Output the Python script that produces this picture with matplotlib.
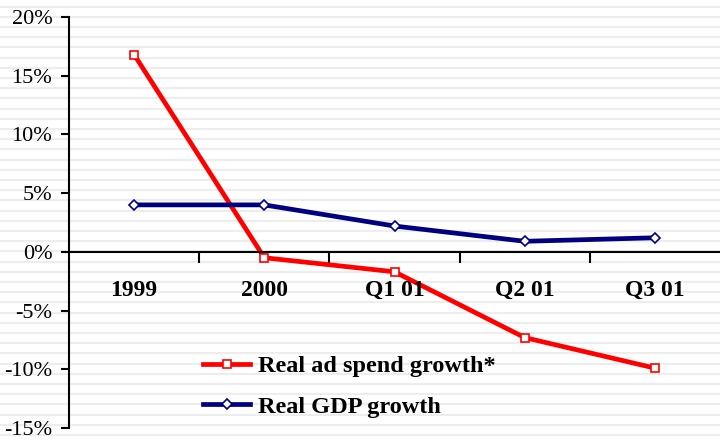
import numpy as np
import matplotlib.pyplot as plt
from matplotlib.ticker import FuncFormatter

categories = ['1999', '2000', 'Q1 01', 'Q2 01', 'Q3 01']
ad_spend = [16.8, -0.5, -1.7, -7.3, -9.9]
gdp = [4.0, 4.0, 2.2, 0.9, 1.2]
yticks = [-15, -10, -5, 0, 5, 10, 15, 20]

plt.rcParams['font.family'] = ['Liberation Serif', 'DejaVu Serif']

W, H = 720, 441
fig = plt.figure(figsize=(W / 100, H / 100), dpi=100)

# striped background
bg = fig.add_axes([0, 0, 1, 1], zorder=0)
bg.set_xlim(0, W)
bg.set_ylim(H, 0)
bg.axis('off')
for y in np.arange(6.5, H, 10.2):
    bg.axhline(y, color='#ededed', linewidth=1.6)

ax = fig.add_axes([69 / W, 1 - 428 / H, 651 / W, 411 / H], zorder=1)
ax.patch.set_alpha(0)

x = np.arange(len(categories))
ax.plot(x, ad_spend, color='#ff0000', linewidth=3.4, marker='s', markersize=6,
        markerfacecolor='white', markeredgecolor='#ff0000', markeredgewidth=1.2,
        label='Real ad spend growth*')
ax.plot(x, gdp, color='#000080', linewidth=3.4, marker='D', markersize=5,
        markerfacecolor='white', markeredgecolor='#000080', markeredgewidth=1.2,
        label='Real GDP growth')

ax.set_xlim(-0.5, len(categories) - 0.5)
ax.set_ylim(-15, 20)
ax.set_yticks(yticks)
ax.yaxis.set_major_formatter(FuncFormatter(lambda v, p: f'{v:.0f}%'))
ax.tick_params(axis='y', direction='out', length=6, width=1.5, labelsize=16, pad=6)

for s in ['top', 'right']:
    ax.spines[s].set_visible(False)
ax.spines['left'].set_linewidth(1.5)
ax.spines['bottom'].set_position(('data', 0))
ax.spines['bottom'].set_linewidth(1.5)

ax.set_xticks(np.arange(0.5, len(categories) - 0.5))
ax.set_xticklabels([])
ax.tick_params(axis='x', direction='out', length=8, width=1.5)
for i, c in enumerate(categories):
    ax.text(i, -3.3, c, ha='center', va='center', fontsize=17, fontweight='bold')

leg = ax.legend(loc='upper left', bbox_to_anchor=(186 / W, 1 - 338 / H),
                bbox_transform=fig.transFigure, frameon=False,
                prop={'size': 17.5, 'weight': 'bold'}, handlelength=1.95,
                labelspacing=0.78, handletextpad=0.3, borderpad=0.2)

fig.savefig('out.png', dpi=100)
